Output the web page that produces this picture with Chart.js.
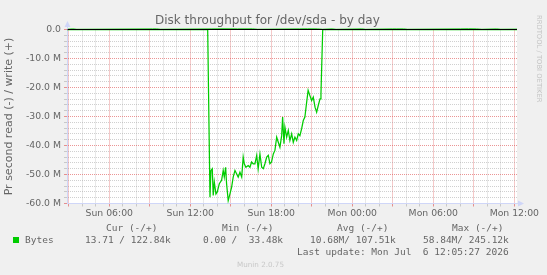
<!DOCTYPE html>
<html>
<head>
<meta charset="utf-8">
<script src="https://cdn.jsdelivr.net/npm/chart.js@4.4.1/dist/chart.umd.min.js"></script>
<style>
  body { margin: 0; background: #f0f0f0; }
  #wrap { position: relative; width: 547px; height: 275px; overflow: hidden; }
  #wrap canvas { position: absolute; left: 0; top: 0; }
  #wrap div { position: absolute; white-space: pre; color: #666; }
  .mono { font: 9.5px/12px "DejaVu Sans Mono", monospace; }
</style>
</head>
<body>
<div id="wrap">
  <canvas id="chart" width="547" height="275"></canvas>
  <div style="left:155px;top:13px;font:12px/14px 'DejaVu Sans'">Disk throughput for /dev/sda - by day</div>
  <div style="left:535px;top:15px;font:6.8px/8px 'DejaVu Sans';color:#c4c4c4;writing-mode:vertical-rl">RRDTOOL / TOBI OETIKER</div>
  <div class="mono" style="left:106px;top:222px">Cur (-/+)</div>
  <div class="mono" style="left:222px;top:222px">Min (-/+)</div>
  <div class="mono" style="left:337px;top:222px">Avg (-/+)</div>
  <div class="mono" style="left:452px;top:222px">Max (-/+)</div>
  <div style="left:13px;top:237px;width:6px;height:6px;background:#00cc00"></div>
  <div class="mono" style="left:25px;top:234px">Bytes</div>
  <div class="mono" style="left:85px;top:234px">13.71 / 122.84k</div>
  <div class="mono" style="left:203px;top:234px">0.00 /  33.48k</div>
  <div class="mono" style="left:310px;top:234px">10.68M/ 107.51k</div>
  <div class="mono" style="left:423px;top:234px">58.84M/ 245.12k</div>
  <div class="mono" style="left:297px;top:245.5px">Last update: Mon Jul  6 12:05:27 2026</div>
  <div style="left:237px;top:260px;font:7.2px/9px 'DejaVu Sans';color:#c8c8c8">Munin 2.0.75</div>
</div>
<script>
// time axis in hours since Sun 00:00
const xStart = 2.87;
const xEnd = 36.2;
const xTickHours = [6, 12, 18, 24, 30, 36];
const xTickLabels = ['Sun 06:00', 'Sun 12:00', 'Sun 18:00', 'Mon 00:00', 'Mon 06:00', 'Mon 12:00'];

// read (-), in MB/s
const readHours = [2.87, 13.29, 13.46, 13.53, 13.63, 13.70, 13.78, 13.90, 14.00, 14.15, 14.32,
  14.44, 14.52, 14.62, 14.69, 14.81, 14.94, 15.06, 15.18, 15.31, 15.44,
  15.55, 15.68, 15.81, 15.92, 16.00, 16.12, 16.29, 16.42, 16.54, 16.66,
  16.79, 16.92, 17.03, 17.16, 17.29, 17.41, 17.53, 17.66, 17.78, 17.90,
  18.02, 18.15, 18.27, 18.40, 18.52, 18.64, 18.77, 18.84, 18.94, 19.01,
  19.14, 19.26, 19.38, 19.51, 19.63, 19.75, 19.88, 20.00, 20.12, 20.25,
  20.37, 20.49, 20.62, 20.73, 20.86, 20.99, 21.11, 21.24, 21.36, 21.48,
  21.61, 21.68, 21.81, 36.2];
const readValues = [0, 0, -57.8, -48.6, -48, -57.2, -52.6, -56.7, -56, -53.2, -52,
  -48.6, -50.9, -47.5, -53.2, -59, -56.7, -54.4, -50.9, -48.6, -49.8,
  -50.9, -49.2, -50.9, -44, -46.3, -47.5, -46.9, -47.5, -45.7, -46.3,
  -46.3, -43.4, -48, -42.9, -47.5, -48, -46.3, -44, -43.4, -46.3,
  -45.7, -42.9, -41.7, -37.1, -38.9, -40.6, -36.6, -30.2, -39.4, -33.7,
  -37.1, -34.8, -38.3, -36, -38.9, -37.1, -38.3, -36, -36.6, -34.2,
  -31.4, -30.2, -25.1, -21, -22.8, -24.5, -23.3, -26.8, -28.5, -26.2,
  -23.9, -22.2, 0, 0];

// write (+), in MB/s
const writeHours = [2.87, 3.3, 3.6, 9.2, 9.5, 9.8, 13.6, 14.5, 15.5, 16.6, 17.0, 20.1, 20.7, 21.4, 21.8,
  22.5, 22.8, 24.7, 25.0, 27.0, 27.3, 27.8, 28.1, 32.0, 32.6, 33.2, 33.6, 34.7, 35.0, 36.2];
const writeValues = [0.08, 0.2, 0.07, 0.2, 0.22, 0.08, 0.2, 0.24, 0.2, 0.22, 0.08, 0.2, 0.23, 0.2, 0.08,
  0.2, 0.07, 0.2, 0.07, 0.2, 0.2, 0.2, 0.08, 0.2, 0.24, 0.2, 0.08, 0.2, 0.08, 0.12];

const gridHours = [];
for (let h = Math.ceil(xStart); h <= Math.floor(xEnd); h++) gridHours.push(h);
const gridMB = [];
for (let v = -60; v <= 0; v += 2) gridMB.push(v);

const GRID = 'rgba(150,150,150,0.45)';
const MGRID = 'rgba(222,79,79,0.6)';
const AXIS = '#cfd6f8';

// white canvas, black zero line, axis arrows
const munFrame = {
  id: 'munFrame',
  beforeDraw(chart) {
    const a = chart.chartArea, ctx = chart.ctx;
    ctx.save();
    ctx.fillStyle = '#fff';
    ctx.fillRect(a.left, Math.floor(a.top), a.right - a.left, a.bottom - Math.floor(a.top));
    ctx.restore();
  },
  afterDatasetsDraw(chart) {
    const a = chart.chartArea, ctx = chart.ctx;
    const y0 = chart.scales.y.getPixelForValue(0);
    ctx.save();
    ctx.strokeStyle = '#000';
    ctx.lineWidth = 1;
    ctx.beginPath();
    ctx.moveTo(a.left, y0);
    ctx.lineTo(a.right, y0);
    ctx.stroke();
    ctx.restore();
  },
  afterDraw(chart) {
    const a = chart.chartArea, ctx = chart.ctx;
    const xl = Math.round(a.left) + 0.5, yb = Math.round(a.bottom) - 0.5;
    ctx.save();
    ctx.strokeStyle = AXIS;
    ctx.fillStyle = AXIS;
    ctx.lineWidth = 1;
    ctx.beginPath();
    ctx.moveTo(xl, a.top);
    ctx.lineTo(xl, 26);
    ctx.moveTo(a.right, yb);
    ctx.lineTo(a.right + 2, yb);
    ctx.stroke();
    ctx.beginPath();
    ctx.moveTo(xl, 21);
    ctx.lineTo(xl - 3, 27);
    ctx.lineTo(xl + 3, 27);
    ctx.closePath();
    ctx.fill();
    ctx.beginPath();
    ctx.moveTo(a.right + 7, yb);
    ctx.lineTo(a.right + 1, yb - 3);
    ctx.lineTo(a.right + 1, yb + 3);
    ctx.closePath();
    ctx.fill();
    ctx.restore();
  }
};

const tickFont = { family: 'DejaVu Sans', size: 9.3 };
const isMajorX = c => c.tick && Math.round(c.tick.value) % 3 === 0;
const isMajorY = c => c.tick && Math.round(c.tick.value) % 10 === 0;

new Chart(document.getElementById('chart'), {
  type: 'line',
  data: {
    datasets: [{
      label: 'read',
      data: readHours.map((h, i) => ({ x: h, y: readValues[i] })),
      borderColor: '#00cc00',
      borderWidth: 1.25,
      pointRadius: 0,
      tension: 0,
      clip: { left: 0, right: 0, top: 3, bottom: 0 }
    }, {
      label: 'write',
      data: writeHours.map((h, i) => ({ x: h, y: writeValues[i] })),
      borderColor: '#00cc00',
      borderWidth: 1,
      pointRadius: 0,
      tension: 0,
      clip: { left: 0, right: 0, top: 3, bottom: 0 }
    }]
  },
  options: {
    responsive: false,
    animation: false,
    devicePixelRatio: 1,
    layout: { padding: { left: 0, top: 29.5, right: 30, bottom: 51.5 } },
    plugins: { legend: { display: false }, tooltip: { enabled: false } },
    scales: {
      x: {
        type: 'linear',
        min: xStart,
        max: xEnd,
        afterBuildTicks: s => { s.ticks = gridHours.map(v => ({ value: v })); },
        afterFit: s => { s.height = 20; },
        grid: {
          color: c => isMajorX(c) ? MGRID : GRID,
          tickColor: c => isMajorX(c) ? MGRID : GRID,
          tickLength: 3,
          lineWidth: 1
        },
        border: { display: true, color: AXIS, dash: [1, 1] },
        ticks: {
          autoSkip: false,
          maxRotation: 0,
          padding: 2,
          color: '#666',
          font: tickFont,
          callback: v => {
            const i = xTickHours.indexOf(v);
            return i >= 0 ? xTickLabels[i] : '';
          }
        }
      },
      y: {
        min: -60,
        max: 0,
        afterBuildTicks: s => { s.ticks = gridMB.map(v => ({ value: v })); },
        afterFit: s => { s.width = 67; },
        grid: {
          color: c => (c.tick && c.tick.value === 0) ? 'rgba(0,0,0,0)' : (isMajorY(c) ? MGRID : GRID),
          tickColor: c => isMajorY(c) ? MGRID : GRID,
          tickLength: 3,
          lineWidth: 1
        },
        border: { display: true, color: AXIS, dash: [1, 1] },
        title: {
          display: true,
          text: 'Pr second read (-) / write (+)',
          color: '#666',
          font: { family: 'DejaVu Sans', size: 11 },
          padding: { top: 3, bottom: 0 }
        },
        ticks: {
          autoSkip: false,
          padding: 3,
          color: '#666',
          font: tickFont,
          callback: v => v % 10 !== 0 ? '' : (v === 0 ? '0.0' : v.toFixed(1) + ' M')
        }
      }
    }
  },
  plugins: [munFrame]
});
</script>
</body>
</html>
